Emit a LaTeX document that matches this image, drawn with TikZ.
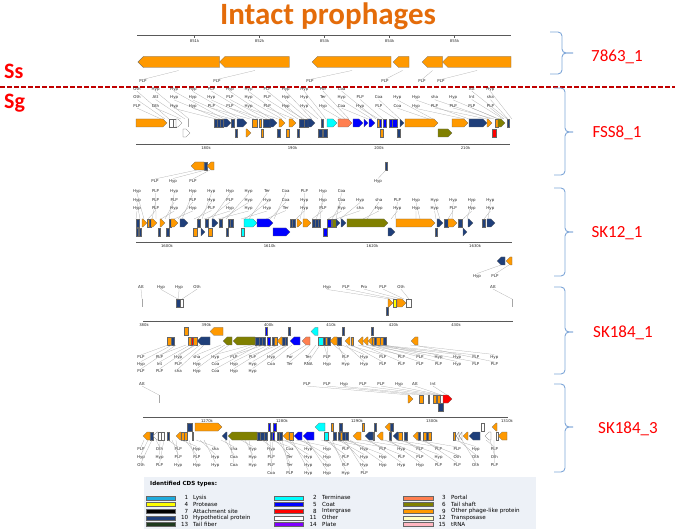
\documentclass[tikz,border=0pt]{standalone}
\usepackage{fontspec}
\setmainfont{Carlito}
\newfontfamily\djv{DejaVu Sans}
\definecolor{gor}{HTML}{FF9900}
\definecolor{ghy}{HTML}{1F3F7A}
\definecolor{gco}{HTML}{0000FF}
\definecolor{gte}{HTML}{00FFFF}
\definecolor{gpo}{HTML}{FF7F50}
\definecolor{gta}{HTML}{808000}
\definecolor{gin}{HTML}{FF0000}
\definecolor{gwh}{HTML}{FFFFFF}
\definecolor{gpr}{HTML}{FFFF00}
\definecolor{gly}{HTML}{1EAADC}
\definecolor{gtr}{HTML}{FFFFC4}
\definecolor{gtf}{HTML}{1E3A1E}
\definecolor{gpl}{HTML}{7F00FF}
\definecolor{grn}{HTML}{FFB6C1}
\definecolor{gat}{HTML}{000000}
\definecolor{titleor}{HTML}{E46C0A}
\definecolor{bracecol}{HTML}{7EA6D8}
\definecolor{dashred}{HTML}{C00000}
\definecolor{legbg}{HTML}{EDF1F7}
\tikzset{
  lab/.style={font=\djv\fontsize{4}{4.5}\selectfont, inner sep=0.4pt, text=black!85},
  conn/.style={draw=gray!65, line width=0.25pt},
  gene/.style={draw=black!60, line width=0.3pt},
  rul/.style={draw=black!65, line width=0.6pt},
  tickst/.style={draw=black!65, line width=0.3pt},
  ticklab/.style={font=\djv\fontsize{3.8}{4}\selectfont, inner sep=0pt, text=black!85},
  attl/.style={draw=gray!70, line width=0.6pt},
  brace/.style={draw=bracecol, line width=0.9pt, rounded corners=4pt},
  blab/.style={font=\fontsize{17}{20}\selectfont, text=red},
  titlest/.style={font=\fontsize{31}{34}\selectfont\bfseries, text=titleor, inner sep=0pt},
  ssst/.style={font=\fontsize{22}{24}\selectfont\bfseries, text=red, inner sep=0pt},
  dashline/.style={draw=dashred, line width=1.4pt, dash pattern=on 4.5pt off 2.5pt},
  legt/.style={font=\djv\fontsize{5.6}{6}\selectfont\bfseries, inner sep=0pt},
  legx/.style={font=\djv\fontsize{5.6}{6}\selectfont, inner sep=0pt},
  swatch/.style={draw=black!60, line width=0.3pt}
}
\def\ghh{4}
\newcommand\gR[4]{\pgfmathsetmacro\ghl{min(\ghh,#2-#1)}\filldraw[gene,fill=#4] (#1,#3-\ghh) -- (#2-\ghl,#3-\ghh) -- (#2,#3) -- (#2-\ghl,#3+\ghh) -- (#1,#3+\ghh) -- cycle;}
\newcommand\gL[4]{\pgfmathsetmacro\ghl{min(\ghh,#2-#1)}\filldraw[gene,fill=#4] (#2,#3-\ghh) -- (#1+\ghl,#3-\ghh) -- (#1,#3) -- (#1+\ghl,#3+\ghh) -- (#2,#3+\ghh) -- cycle;}
\newcommand\gB[4]{\filldraw[gene,fill=#4] (#1,#3-\ghh) rectangle (#2,#3+\ghh);}
\newcommand\generow[2]{\foreach \xa/\xb/\cl/\ty in {#2}{\csname g\ty\endcsname{\xa}{\xb}{#1}{\cl}}}
% name, x0, y, startcol, anchor, gene edge y, row offset, targets, list
\newcommand\labrow[9]{%
  \foreach \lbl [count=\kk from #4] in {#9}{%
    \pgfmathsetmacro\lx{#2+18.6*\kk}%
    \pgfmathsetmacro\tx{#8[\kk]#7}%
    \node[lab] (#1\kk) at (\lx,#3) {\lbl};
    \draw[conn] (#1\kk.#5) -- (\tx,#6);
  }}
\newcommand\brc[6]{%
  \draw[brace] (#1,#4) -- (#2,#4) -- (#2,#5) -- (#3,#5);
  \draw[brace] (#1,#6) -- (#2,#6) -- (#2,#5) -- (#3,#5);}
\def\tF{{165,185,220,236,254,267,282,298,308,322,345,372,383,400,433,469,491,498,503,508}}
\def\tK{{140,152,165,178,198,208,222,245,270,300,316,332,340,367,395,420,440,452,467,488}}
\def\tS{{172,190,200,225,255,268,282,292,310,320,328,338,346,352,362,370,374,380,384,414}}
\def\tT{{148,160,172,185,200,225,245,266,275,285,300,325,338,346,365,385,400,420,458,490}}
\begin{document}
\begin{tikzpicture}[x=1pt,y=-1pt]
\useasboundingbox (0,0) rectangle (675,529);
% ---------- headings ----------
\node[titlest, anchor=base] (title) at (328,25) {Intact prophages};
\node[ssst, anchor=base west] (ss) at (4,79) {Ss};
\node[ssst, anchor=base west] (sg) at (4,109) {Sg};
\draw[dashline] (0,87) -- (675,87);
% ---------- braces ----------
\brc{550}{562}{573}{32}{53}{74}
\brc{554}{565}{573}{88}{132}{175}
\brc{554}{565}{573}{188}{232}{276}
\brc{554}{565}{573}{287}{332}{374}
\brc{554}{565}{573}{384}{427}{472}
\node[blab] (b1) at (617,57) {7863\_1};
\node[blab] (b2) at (617,133) {FSS8\_1};
\node[blab] (b3) at (617,233) {SK12\_1};
\node[blab] (b4) at (623,333) {SK184\_1};
\node[blab] (b5) at (628,429) {SK184\_3};
% ---------- 7863_1 ----------
\draw[rul, line width=1pt] (137,36) -- (511,36);
\foreach \v [count=\n from 0] in {851k,852k,853k,854k,855k}{
  \draw[tickst] (194.6+65*\n,36) -- ++(0,2);
  \node[ticklab] (t7\n) at (194.6+65*\n,41.5) {\v};}
\def\ghh{5.5}
\generow{62}{137.8/219.5/gor/L, 219.5/289.3/gor/L, 312/391/gor/L, 393/409/gor/L, 422/442.5/gor/L, 442.5/511/gor/L}
\def\ghh{4}
\foreach \lx/\tx [count=\n] in {143/178.6, 217/254.8, 310/352, 385/402.5, 422/432.6, 441/477}{
  \node[lab] (p7\n) at (\lx,81.5) {PLP};
  \draw[conn] (p7\n.north) -- (\tx,70.5);}
% ---------- FSS8_1 ----------
\labrow{fa}{137}{89}{0}{south}{119}{+4}{\tF}{Oth,Hyp,Hyp,Hyp,PLP,Hyp,Hyp,PLP,Hyp,Hyp,Por,Coa}
\labrow{fa}{137}{89}{18}{south}{119}{+4}{\tF}{Att,Hyp}
\labrow{fb}{137}{97.5}{0}{south}{119}{+0}{\tF}{Oth,Att,Hyp,Hyp,Hyp,PLP,Hyp,PLP,Hyp,Hyp,Ter,Hyp,PLP,Coa,Hyp,Hyp,sha,Hyp,Int,sha}
\labrow{fc}{137}{106}{0}{south}{119}{-4}{\tF}{PLP,Oth,Hyp,Hyp,PLP,PLP,Hyp,PLP,Hyp,Hyp,Hyp,Coa,Hyp,PLP,Coa,Hyp,PLP,PLP,PLP,PLP}
\generow{123}{136/167/gor/R, 169/173/gwh/B, 173/176/gwh/B, 176/182/gwh/R,
 214/217/ghy/B, 217/220/ghy/B, 220/223/ghy/B, 224/231/ghy/R, 231/234/ghy/B, 237/247/ghy/R,
 252/257/gor/B, 259/261/gor/B, 263/270/ghy/B, 270/277/ghy/R, 279/285/gor/R, 289/296/gor/R,
 299/304/ghy/B, 304/308/ghy/B, 308/315/ghy/R, 321/323/ghy/B, 327/337/gte/R, 338/352/gpo/R,
 353/363/gco/R, 364/368/gco/R, 369/375/gco/R, 377/379/gor/B, 379/381/gco/B, 383/386/gco/B,
 389/392/gco/B, 392/397/gco/B, 400/404/ghy/R, 405/438/gor/R, 452/468/gor/R, 469/487/ghy/R,
 487/492/gor/R, 495/498/gor/B, 498/505/gta/R, 507/509/ghy/B}
\draw[attl] (188,119) -- (188,127);
\generow{133}{183/190/gwh/R, 235/237/ghy/B, 246/251/gor/R, 261/263/gor/B, 277/280/ghy/B,
 286/289/gor/B, 297/299/ghy/B, 318/322/ghy/B, 323/327/ghy/B, 380/383/gor/B, 397/400/ghy/B,
 438/452/gta/R, 492/496/gin/B}
\draw[rul] (136,144) -- (509,144);
\foreach \n in {0,...,43} \draw[tickst] (136.8+8.65*\n,144) -- ++(0,1.4);
\foreach \v [count=\n from 0] in {180k,190k,200k,210k}
  \node[ticklab] (tf\n) at (206+86.5*\n,148.5) {\v};
\generow{166}{191/204/gor/L, 204/207/ghy/B, 207/214/gor/L, 385/387/ghy/B}
\foreach \lx/\tx/\v [count=\n] in {155/197/PLP, 173/205.5/Hyp, 193/210/PLP, 378/386/Hyp}{
  \node[lab] (fd\n) at (\lx,181) {\v};
  \draw[conn] (fd\n.north) -- (\tx,170);}
% ---------- SK12_1 ----------
\labrow{ka}{137}{191}{0}{south}{219}{+4}{\tK}{Hyp,PLP,Hyp,Hyp,Hyp,Hyp,Hyp,Ter,Coa,PLP,Hyp,Coa}
\labrow{kb}{137}{200}{0}{south}{219}{+0}{\tK}{Hyp,PLP,PLP,PLP,Hyp,PLP,Hyp,Hyp,Coa,Hyp,Hyp,Coa,Hyp,sha,PLP,Hyp,Hyp,Hyp,Hyp,Hyp}
\labrow{kc}{137}{208.5}{0}{south}{219}{-4}{\tK}{Hyp,PLP,Hyp,Hyp,PLP,Hyp,Hyp,Hyp,Ter,Hyp,PLP,Hyp,sha,Hyp,Hyp,Hyp,Hyp,PLP,Hyp,Hyp}
\generow{223}{136/139/ghy/B, 142/147/gor/R, 147/149/gor/B, 149/151/ghy/B, 151/157/gor/R,
 160/165/gor/R, 169/171/ghy/B, 171/178/gor/R, 180/188/ghy/R, 197/200/ghy/B, 205/208/ghy/B,
 212/218/ghy/R, 219/222/ghy/B, 228/230/ghy/B, 230/233/ghy/B, 244/257/gte/R, 257/273/gco/R,
 290/292/ghy/B, 292/295/ghy/B, 297/302/gor/R, 303/311/gor/R, 312/315/ghy/B, 315/318/ghy/B,
 318/320/ghy/B, 327/331/gco/B, 332/336/gta/B, 336/340/ghy/R, 341/346/ghy/R, 347/388/gta/R,
 396/435/gor/R, 437/443/ghy/R, 444/448/ghy/B, 448/457/gor/R, 458/462/ghy/B, 468/473/ghy/R,
 482/485/ghy/B, 487/495/ghy/R}
\generow{232}{136/138/ghy/B, 139/141/ghy/B, 158/160/ghy/B, 166/169/ghy/B, 193/197/gor/B,
 201/205/ghy/R, 208/212/gor/B, 226/228/ghy/B, 241/244/gte/B, 273/290/gco/R, 323/327/gco/B,
 388/395/ghy/R, 435/437/ghy/B, 463/467/ghy/R}
\draw[rul] (136,242) -- (512,242);
\foreach \n in {0,...,36} \draw[tickst] (136.2+10.27*\n,242) -- ++(0,1.4);
\foreach \v [count=\n from 0] in {1600k,1610k,1620k,1630k}
  \node[ticklab] (tk\n) at (167+102.7*\n,246.5) {\v};
\generow{261}{497/505/ghy/L, 506/512/gor/L}
\foreach \lx/\tx/\v [count=\n] in {477/501/Hyp, 495/509/PLP}{
  \node[lab] (kd\n) at (\lx,276) {\v};
  \draw[conn] (kd\n.north) -- (\tx,265);}
% ---------- SK184_1 ----------
\foreach \lx/\tx/\v [count=\n] in {141/142/Att, 161/178/Hyp, 179/178.5/Hyp, 197/182/Oth,
  327/390/Hyp, 346/394.5/PLP, 364/401/Pro, 383/404/PLP, 401/409/Oth, 493/512/Att}{
  \node[lab] (sa\n) at (\lx,287) {\v};
  \draw[conn] (sa\n.south) -- (\tx,299);}
\draw[attl] (142,299) -- (142,307);
\draw[attl] (512,299) -- (512,307);
\generow{303}{176/180/ghy/B, 180/183/gwh/B, 388/393/gor/R, 393/396/gpr/B, 397/406/gor/R, 406/411/gwh/B}
\generow{311.5}{386/388/ghy/B}
\draw[rul] (143,321) -- (513,321);
\foreach \n in {0,...,59} \draw[tickst] (144+6.24*\n,321) -- ++(0,1.4);
\foreach \v [count=\n from 0] in {380k,390k,400k,410k,420k,430k}
  \node[ticklab] (ts\n) at (144+62.4*\n,325) {\v};
\generow{331.5}{184/188/gor/B, 210/223/gor/L, 265/267/gco/B, 288/290/ghy/B, 311/318/gte/L,
 342/344/ghy/B, 371/373/ghy/B}
\generow{341}{167/171/gor/B, 171/174/ghy/B, 188/191/gor/B, 191/193/gin/B, 193/197/gor/B,
 197/210/ghy/L, 223/232/gta/L, 233/255/gta/L, 255/259/ghy/B, 259/262/ghy/B, 262/265/ghy/B,
 267/270/gco/B, 272/274/ghy/B, 274/277/gor/B, 277/282/gor/L, 282/285/ghy/B, 285/287/ghy/B,
 290/300/gco/L, 302/310/gpo/L, 318/323/gte/B, 323/325/ghy/B, 325/327/gor/B, 327/330/ghy/B,
 330/337/gor/L, 337/341/ghy/B, 345/350/gor/L, 351/353/gor/B, 358/363/gor/L, 363/368/gor/L,
 368/372/gor/L, 372/374/gor/B, 374/376/ghy/B, 376/380/gor/B, 380/383/gor/B, 383/386/ghy/B,
 411/418/gor/L}
\labrow{sb}{141}{357}{0}{north}{345}{-4}{\tS}{PLP,PLP,Hyp,sha,Hyp,PLP,PLP,Hyp,Por,Ter,PLP,PLP,Hyp,PLP,PLP,PLP,Hyp,Hyp,PLP,Hyp}
\labrow{sc}{141}{364}{0}{north}{345}{+0}{\tS}{Hyp,Int,PLP,Hyp,Coa,Hyp,Hyp,Coa,Ter,RNA,Hyp,Hyp,Hyp,PLP,PLP,PLP,PLP,Hyp,PLP,PLP}
\labrow{sd}{141}{371}{0}{north}{345}{+4}{\tS}{PLP,PLP,sha,Hyp,Coa,Hyp,Hyp}
% ---------- SK184_3 ----------
\foreach \lx/\tx/\v [count=\n] in {142/159/Att, 307/410/PLP, 327/421/PLP, 344/428.5/Hyp,
  363/434.5/PLP, 381/438.5/PLP, 399/441/Hyp, 415/441.5/Att, 433/447/Int}{
  \node[lab] (ta\n) at (\lx,384) {\v};
  \draw[conn] (ta\n.south) -- (\tx,395);}
\draw[attl] (159,395) -- (159,403);
\generow{399}{408/413/gor/R, 419/423/gor/B, 428/429.5/ghy/B, 433/436/gor/B, 437/440/gor/B,
 440/443/gwh/B, 443/452/gin/R}
\generow{407}{438/443/ghy/B}
\draw[rul] (143,417) -- (507,417);
\foreach \n in {0,...,48} \draw[tickst] (147+7.5*\n,417) -- ++(0,1.4);
\foreach \v [count=\n from 0] in {1270k,1280k,1290k,1300k,1310k}
  \node[ticklab] (tt\n) at (207+75*\n,421) {\v};
\generow{427}{187/192/ghy/B, 195/222/gor/R, 268/270/gco/B, 273/276/gco/B, 315/325/gte/L,
 331/333/gor/B, 339/342/ghy/B, 362/364/gor/B, 374/376/ghy/B, 385/390/gor/L, 390/393/ghy/B,
 481/484/gwh/B, 492/497/gor/L}
\generow{436}{143/150/gor/L, 150/153/ghy/B, 153/158/gwh/L, 158/161/gwh/B, 161/164/gwh/B,
 167/169/ghy/B, 176/181/gor/L, 181/184/gor/B, 184/187/gor/B, 192/193.5/ghy/B, 222/227/ghy/L,
 228/257/gta/L, 257/260/ghy/B, 260/264/ghy/B, 264/267/ghy/B, 270/272/ghy/B, 272/274/gco/B,
 277/279/ghy/B, 279/282/ghy/B, 283/289/gor/L, 289/293/gor/B, 294/302/gco/L, 303/314/gco/L,
 324/328/gte/B, 333/336/ghy/B, 338/340/ghy/B, 340/342/gor/B, 342/345/ghy/B, 345/348/ghy/B,
 353/361/gor/L, 365/373/ghy/L, 373/374.5/gor/B, 377/383/gor/L, 389/391/ghy/B, 393/398/ghy/L,
 398/402/gor/B, 404/407/ghy/B, 413/418/gor/L, 418/420/ghy/B, 423/426/gor/B, 426/428/ghy/B,
 428/431/gor/B, 453/455/gor/B, 456/459/gwh/L, 459/462/gwh/L, 463/468/gor/L, 469/480/ghy/L,
 485/491/gwh/L, 496/498/gwh/B, 498/507/gor/L}
\labrow{tb}{141}{449}{0}{north}{440}{-4}{\tT}{PLP,Oth,PLP,Hyp,sha,sha,Hyp,Hyp,Coa,Hyp,Hyp,PLP,Hyp,PLP,Hyp,PLP,PLP,PLP,Hyp,PLP}
\labrow{tc}{141}{457}{0}{north}{440}{+0}{\tT}{Hyp,Hyp,PLP,PLP,Hyp,Coa,Hyp,PLP,Ter,Hyp,Hyp,PLP,Hyp,Hyp,PLP,PLP,Hyp,Oth,Oth,Oth}
\labrow{td}{141}{465}{0}{north}{440}{+4}{\tT}{Oth,PLP,Hyp,Hyp,Hyp,Coa,Hyp,PLP,Ter,Hyp,Hyp,PLP,Hyp,Hyp,Hyp,Hyp,PLP,PLP,Oth,PLP}
\labrow{te}{141}{473}{7}{north}{440}{+7}{\tT}{Coa,PLP,Hyp,Hyp,Hyp,PLP}
% ---------- legend ----------
\fill[legbg] (144,477) rectangle (536,529);
\node[legt, anchor=west] (legtitle) at (150,484) {Identified CDS types:};
\foreach \nm/\txt/\cl [count=\k from 0] in {1/Lysis/gly, 4/Protease/gpr, 7/Attachment site/gat, 10/Hypothetical protein/ghy, 13/Tail fiber/gtf}{
  \filldraw[swatch, fill=\cl] (146,497.7+6.65*\k-2) rectangle (175,497.7+6.65*\k+2);
  \node[legx, anchor=east] (ln1\k) at (188.5,497.7+6.65*\k) {\nm};
  \node[legx, anchor=west] (lt1\k) at (193,497.7+6.65*\k) {\txt};}
\foreach \nm/\txt/\cl [count=\k from 0] in {2/Terminase/gte, 5/Coat/gco, 8/Intergrase/gin, 11/Other/gwh, 14/Plate/gpl}{
  \filldraw[swatch, fill=\cl] (274,497.7+6.65*\k-2) rectangle (303,497.7+6.65*\k+2);
  \node[legx, anchor=east] (ln2\k) at (317,497.7+6.65*\k) {\nm};
  \node[legx, anchor=west] (lt2\k) at (322,497.7+6.65*\k) {\txt};}
\foreach \nm/\txt/\cl [count=\k from 0] in {3/Portal/gpo, 6/Tail shaft/gta, 9/Other phage-like protein/gor, 12/Transposase/gtr, 15/tRNA/grn}{
  \filldraw[swatch, fill=\cl] (403,497.7+6.65*\k-2) rectangle (433,497.7+6.65*\k+2);
  \node[legx, anchor=east] (ln3\k) at (446,497.7+6.65*\k) {\nm};
  \node[legx, anchor=west] (lt3\k) at (451,497.7+6.65*\k) {\txt};}
\end{tikzpicture}
\end{document}
